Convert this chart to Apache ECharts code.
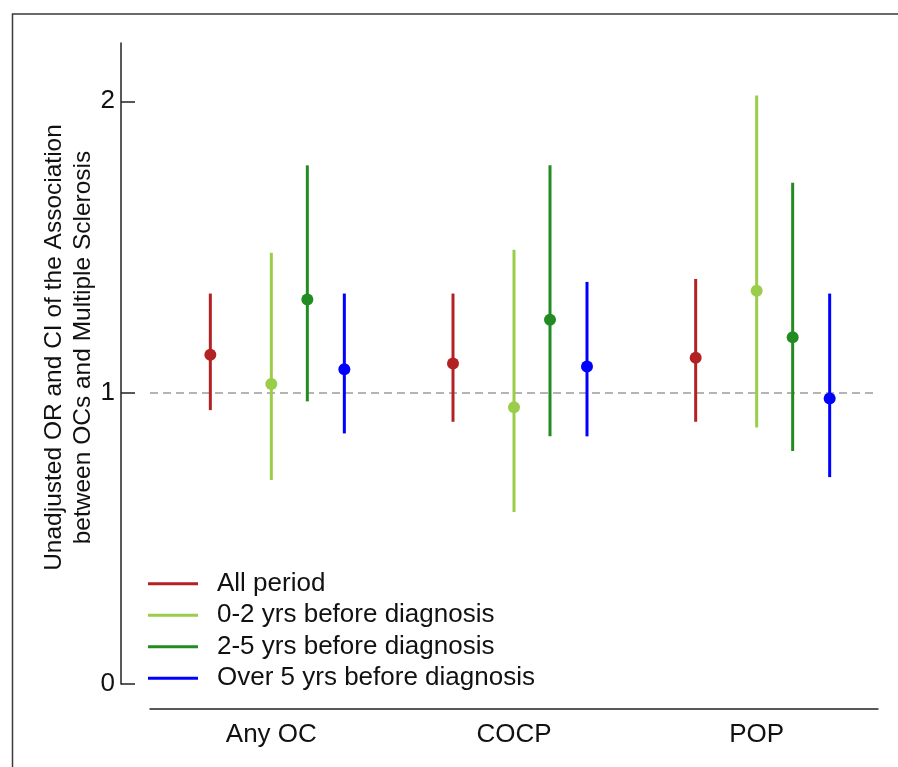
<!DOCTYPE html>
<html>
<head>
<meta charset="utf-8">
<script src="https://cdn.jsdelivr.net/npm/echarts@6/dist/echarts.min.js"></script>
<style>
  html, body { margin: 0; padding: 0; background: #fff; }
  #chart { width: 898px; height: 767px; }
</style>
</head>
<body>
<div id="chart"></div>
<script>
// categories and tick labels
var categories = ['Any OC', 'COCP', 'POP']
var yTicks = [0, 1, 2]

// odds ratio with lower / upper CI, one value per category
var allPeriodOR = [1.13, 1.10, 1.12]
var allPeriodLow = [0.94, 0.90, 0.90]
var allPeriodHigh = [1.34, 1.34, 1.39]

var yrs02OR = [1.03, 0.95, 1.35]
var yrs02Low = [0.70, 0.59, 0.88]
var yrs02High = [1.48, 1.49, 2.02]

var yrs25OR = [1.32, 1.25, 1.19]
var yrs25Low = [0.97, 0.85, 0.80]
var yrs25High = [1.78, 1.78, 1.72]

var over5OR = [1.08, 1.09, 0.98]
var over5Low = [0.86, 0.85, 0.71]
var over5High = [1.34, 1.38, 1.34]

var seriesNames = ['All period', '0-2 yrs before diagnosis', '2-5 yrs before diagnosis', 'Over 5 yrs before diagnosis']
var colors = ['#b22222', '#9acd4a', '#228b22', '#0000ff']
// horizontal shift of each period inside its category (px)
var shifts = [-61, 0, 36, 73]

var FONT = "'Liberation Sans', Arial, sans-serif"

function toData(or, low, high) {
  var out = []
  for (var i = 0; i < categories.length; i++) {
    out.push([i, low[i], or[i], high[i]])
  }
  return out
}

function makeRenderer(idx) {
  return function(params, api) {
    var c = api.value(0)
    var lo = api.coord([c, api.value(1)])
    var mid = api.coord([c, api.value(2)])
    var hi = api.coord([c, api.value(3)])
    var x = lo[0] + shifts[idx]
    return {
      type: 'group',
      children: [{
        type: 'line',
        shape: { x1: x, y1: hi[1], x2: x, y2: lo[1] },
        style: { stroke: colors[idx], lineWidth: 3 }
      }, {
        type: 'circle',
        shape: { cx: x, cy: mid[1], r: 6 },
        style: { fill: colors[idx] }
      }]
    }
  }
}

var dataSets = [
  toData(allPeriodOR, allPeriodLow, allPeriodHigh),
  toData(yrs02OR, yrs02Low, yrs02High),
  toData(yrs25OR, yrs25Low, yrs25High),
  toData(over5OR, over5Low, over5High)
]

var series = []
for (var s = 0; s < seriesNames.length; s++) {
  series.push({
    name: seriesNames[s],
    type: 'custom',
    renderItem: makeRenderer(s),
    itemStyle: { color: colors[s] },
    encode: { x: 0, y: [1, 2, 3] },
    data: dataSets[s],
    z: 3
  })
}
// reference line at OR = 1
series[0].markLine = {
  silent: true,
  symbol: 'none',
  label: { show: false },
  lineStyle: { color: '#b4b4b4', type: [8, 5], width: 2 },
  data: [{ yAxis: 1 }],
  z: 1
}

var chart = echarts.init(document.getElementById('chart'))
chart.setOption({
  backgroundColor: '#fff',
  animation: false,
  textStyle: { fontFamily: FONT },
  graphic: [{
    type: 'rect',
    left: 10,
    top: 11.5,
    shape: { width: 900, height: 800 },
    style: { fill: 'none', stroke: '#3a3a3a', lineWidth: 1.5 },
    z: -1
  }],
  grid: {
    left: 150,
    right: 20,
    top: 43,
    bottom: 83
  },
  legend: {
    orient: 'vertical',
    left: 143,
    top: 563,
    itemWidth: 50,
    itemHeight: 3,
    itemGap: 0,
    icon: 'rect',
    data: seriesNames,
    textStyle: {
      fontFamily: FONT,
      fontSize: 26,
      color: '#111',
      lineHeight: 31.5,
      padding: [0, 0, 0, 14]
    }
  },
  xAxis: {
    type: 'category',
    data: categories,
    offset: 25,
    axisLine: { onZero: false, lineStyle: { color: '#222', width: 1.5 } },
    axisTick: { show: false },
    axisLabel: {
      fontFamily: FONT,
      fontSize: 26,
      color: '#111',
      margin: 13
    },
    splitLine: { show: false }
  },
  yAxis: {
    type: 'value',
    min: 0,
    max: 2.2,
    interval: 1,
    offset: 29,
    name: 'Unadjusted OR and CI of the Association\nbetween OCs and Multiple Sclerosis',
    nameLocation: 'middle',
    nameRotate: 90,
    nameGap: 23,
    nameMoveOverlap: false,
    nameTextStyle: {
      fontFamily: FONT,
      fontSize: 24.5,
      color: '#111',
      lineHeight: 29,
      padding: [0, 0, 0, 32]
    },
    axisLine: { show: true, lineStyle: { color: '#222', width: 1.5 } },
    axisTick: {
      show: true,
      inside: true,
      length: 14,
      customValues: yTicks,
      lineStyle: { color: '#222', width: 1.5 }
    },
    axisLabel: {
      customValues: yTicks,
      fontFamily: FONT,
      fontSize: 26,
      color: '#111',
      margin: 6
    },
    splitLine: { show: false }
  },
  series: series
})
</script>
</body>
</html>
